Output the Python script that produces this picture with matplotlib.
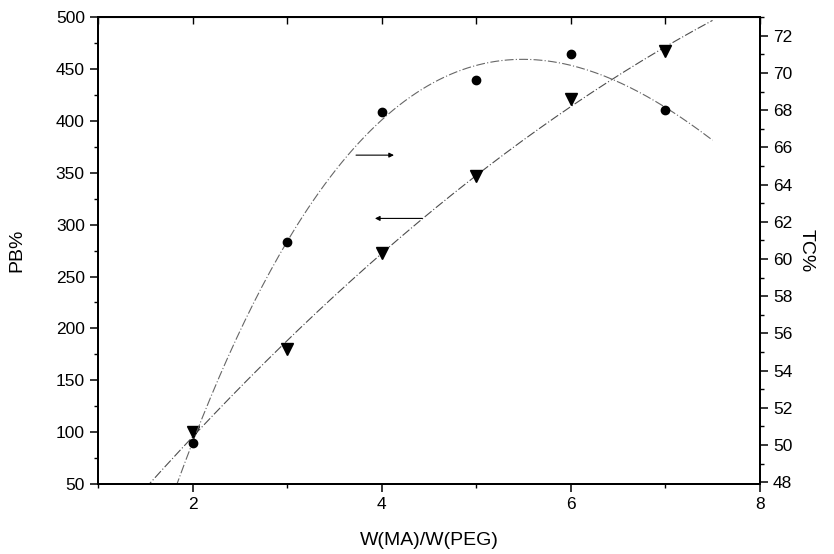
import matplotlib
matplotlib.use("Agg")
import matplotlib.pyplot as plt
import numpy as np
from matplotlib.ticker import MultipleLocator

plt.rcParams["font.family"] = ["Liberation Sans", "DejaVu Sans"]

# data
ratio = [2, 3, 4, 5, 6, 7]
pb = [100, 180, 273, 347, 421, 467]          # triangles, left axis
tc = [50.1, 60.9, 67.9, 69.6, 71.0, 68.0]    # circles, right axis

# fitted curves (as in the original, polynomial fits through the points)
pb_fit = np.polyfit(ratio, pb, 2)
tc_fit = np.polyfit(ratio, tc, 3)
xs = np.linspace(1.5, 7.5, 200)

fig = plt.figure(figsize=(8.34, 5.54), dpi=100)
ax = fig.add_axes([0.1175, 0.1264, 0.7935, 0.8426])
ax2 = ax.twinx()

ax.plot(xs, np.polyval(pb_fit, xs), color="0.3", lw=0.8, ls=(0, (8, 2, 1, 2)))
ax.plot(ratio, pb, ls="none", marker="v", ms=8, color="black")
ax2.plot(xs, np.polyval(tc_fit, xs), color="0.4", lw=0.8, ls=(0, (8, 2, 1, 2)))
ax2.plot(ratio, tc, ls="none", marker="o", ms=6, color="black")

# arrows pointing to the axis each curve belongs to
ax.annotate("", xy=(4.16, 367), xytext=(3.70, 367),
            arrowprops=dict(arrowstyle="-|>", lw=0.8, color="black", mutation_scale=7))
ax.annotate("", xy=(3.90, 306), xytext=(4.46, 306),
            arrowprops=dict(arrowstyle="-|>", lw=0.8, color="black", mutation_scale=7))

ax.set_xlim(1, 8)
ax.set_ylim(50, 500)
ax2.set_ylim(47.9, 73)
ax.xaxis.set_major_locator(MultipleLocator(2))
ax.xaxis.set_minor_locator(MultipleLocator(1))
ax.yaxis.set_major_locator(MultipleLocator(50))
ax.yaxis.set_minor_locator(MultipleLocator(25))
ax2.yaxis.set_major_locator(MultipleLocator(2))
ax2.yaxis.set_minor_locator(MultipleLocator(1))

for a in (ax, ax2):
    for s in a.spines.values():
        s.set_linewidth(1.4)
ax.tick_params(which="major", direction="out", length=6, width=1.1, labelsize=12.5)
ax.tick_params(which="minor", direction="out", length=3, width=1)
ax2.tick_params(which="major", direction="out", length=6, width=1.1, labelsize=12.5)
ax2.tick_params(which="minor", direction="out", length=3, width=1)

top = ax.secondary_xaxis("top")
top.xaxis.set_major_locator(MultipleLocator(1))
top.tick_params(direction="in", length=5, width=1, labeltop=False)

ax.set_xlabel("W(MA)/W(PEG)", fontsize=14, labelpad=14)
ax.set_ylabel("PB%", fontsize=14, labelpad=22)
ax2.set_ylabel("TC%", fontsize=14, rotation=270, labelpad=16)

fig.savefig("out.png", dpi=100)
